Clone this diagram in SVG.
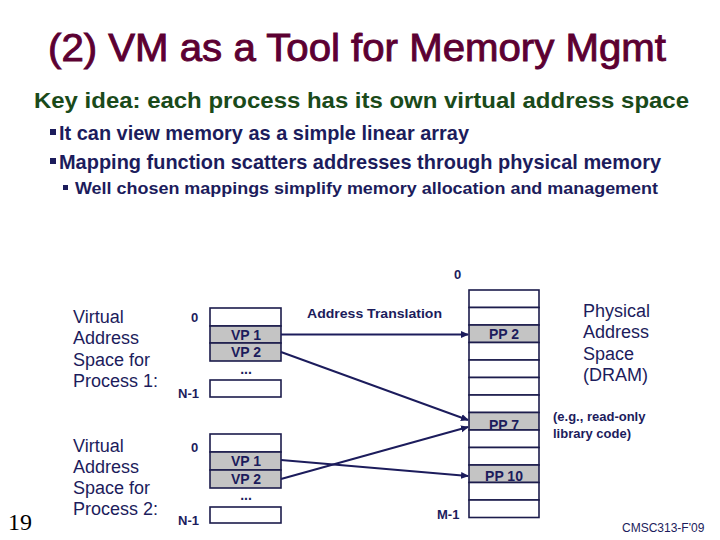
<svg xmlns="http://www.w3.org/2000/svg" width="720" height="540" viewBox="0 0 720 540">
<style>
.nv{fill:#1c1c5c;font-family:"Liberation Sans",Arial,sans-serif}
.b{font-weight:bold}
.box{fill:#ffffff;stroke:#1c1c4c;stroke-width:1.6}
.g{fill:#c4c4c4;stroke:#1c1c4c;stroke-width:1.6}
.lbl{font-size:14px;font-weight:bold;text-anchor:middle}
.big{font-size:18px}
.sm{font-size:13px;font-weight:bold}
.arr{stroke:#1c1c5c;stroke-width:2;fill:none;marker-end:url(#ah)}
</style>
<defs>
<marker id="ah" markerWidth="8" markerHeight="8" refX="7" refY="4" orient="auto" markerUnits="userSpaceOnUse">
<path d="M0,0.5 L8,4 L0,7.5 z" fill="#1c1c5c"/>
</marker>
</defs>
<rect width="720" height="540" fill="#ffffff"/>
<text x="357" y="61" text-anchor="middle" font-family="Liberation Sans,Arial,sans-serif" font-size="38" fill="#5c0032" stroke="#5c0032" stroke-width="0.9" textLength="618" lengthAdjust="spacingAndGlyphs">(2) VM as a Tool for Memory Mgmt</text>
<text x="34" y="108" font-family="Liberation Sans,Arial,sans-serif" font-size="22" font-weight="bold" fill="#1a4a1a" textLength="655" lengthAdjust="spacingAndGlyphs">Key idea: each process has its own virtual address space</text>
<rect x="50" y="129" width="6" height="6" fill="#1c1c5c"/>
<text class="nv b" x="59" y="140" font-size="21" textLength="410" lengthAdjust="spacingAndGlyphs">It can view memory as a simple linear array</text>
<rect x="50" y="158" width="6" height="6" fill="#1c1c5c"/>
<text class="nv b" x="59" y="169" font-size="21" textLength="602" lengthAdjust="spacingAndGlyphs">Mapping function scatters addresses through physical memory</text>
<rect x="63" y="185" width="5" height="5" fill="#1c1c5c"/>
<text class="nv b" x="75" y="194" font-size="17" textLength="583" lengthAdjust="spacingAndGlyphs">Well chosen mappings simplify memory allocation and management</text>

<g id="vas1-label" class="nv big">
<text x="73" y="323">Virtual</text>
<text x="73" y="344">Address</text>
<text x="73" y="366">Space for</text>
<text x="73" y="387">Process 1:</text>
</g>
<g id="vas2-label" class="nv big">
<text x="73" y="452">Virtual</text>
<text x="73" y="473">Address</text>
<text x="73" y="494">Space for</text>
<text x="73" y="515">Process 2:</text>
</g>

<g id="vas1" class="nv">
<text class="sm" x="191" y="322" font-size="14">0</text>
<rect class="box" x="210" y="308" width="71" height="18"/>
<rect class="g" x="210" y="326" width="71" height="17"/>
<rect class="g" x="210" y="343" width="71" height="18"/>
<text class="lbl" x="246" y="339.5">VP 1</text>
<text class="lbl" x="246" y="357">VP 2</text>
<text class="lbl" x="246" y="374" font-size="18">...</text>
<text class="sm" x="178" y="398" font-size="14">N-1</text>
<rect class="box" x="210" y="380" width="71" height="17"/>
</g>

<g id="vas2" class="nv">
<text class="sm" x="191" y="452" font-size="14">0</text>
<rect class="box" x="210" y="434" width="71" height="18"/>
<rect class="g" x="210" y="452" width="71" height="18"/>
<rect class="g" x="210" y="470" width="71" height="18"/>
<text class="lbl" x="246" y="466">VP 1</text>
<text class="lbl" x="246" y="484">VP 2</text>
<text class="lbl" x="246" y="500" font-size="18">...</text>
<text class="sm" x="178" y="525" font-size="14">N-1</text>
<rect class="box" x="210" y="507" width="71" height="16"/>
</g>

<g id="phys" class="nv">
<text class="sm" x="454" y="279" font-size="14">0</text>
<rect class="box" x="469" y="290" width="70" height="17.5"/>
<rect class="box" x="469" y="307.5" width="70" height="17.5"/>
<rect class="g" x="469" y="325" width="70" height="17.5"/>
<rect class="box" x="469" y="342.5" width="70" height="17.5"/>
<rect class="box" x="469" y="360" width="70" height="17.5"/>
<rect class="box" x="469" y="377.5" width="70" height="17.5"/>
<rect class="box" x="469" y="395" width="70" height="17.5"/>
<rect class="g" x="469" y="412.5" width="70" height="17.5"/>
<rect class="box" x="469" y="430" width="70" height="17.5"/>
<rect class="box" x="469" y="447.5" width="70" height="17.5"/>
<rect class="g" x="469" y="465" width="70" height="17.5"/>
<rect class="box" x="469" y="482.5" width="70" height="17.5"/>
<rect class="box" x="469" y="500" width="70" height="17.5"/>
<text class="lbl" x="504" y="339">PP 2</text>
<text class="lbl" x="504" y="430">PP 7</text>
<text class="lbl" x="504" y="481">PP 10</text>
<text class="sm" x="437" y="519" font-size="14">M-1</text>
</g>

<g id="phys-label" class="nv big">
<text x="583" y="317">Physical</text>
<text x="583" y="338">Address</text>
<text x="583" y="360">Space</text>
<text x="583" y="381">(DRAM)</text>
</g>
<g id="note" class="nv sm">
<text x="553" y="421">(e.g., read-only</text>
<text x="553" y="438">library code)</text>
</g>

<text class="nv sm" x="307" y="318" textLength="135" lengthAdjust="spacingAndGlyphs">Address Translation</text>

<g id="connectors">
<line class="arr" x1="281" y1="334.5" x2="468" y2="334.5"/>
<line class="arr" x1="281" y1="352" x2="468" y2="420"/>
<line class="arr" x1="281" y1="460" x2="468" y2="476"/>
<line class="arr" x1="281" y1="479" x2="468" y2="427"/>
</g>

<text x="8" y="530" font-family="Liberation Serif,Times New Roman,serif" font-size="24" fill="#000000">19</text>
<text x="622" y="532" font-family="Liberation Sans,Arial,sans-serif" font-size="12" fill="#1c1c5c">CMSC313-F'09</text>
</svg>
